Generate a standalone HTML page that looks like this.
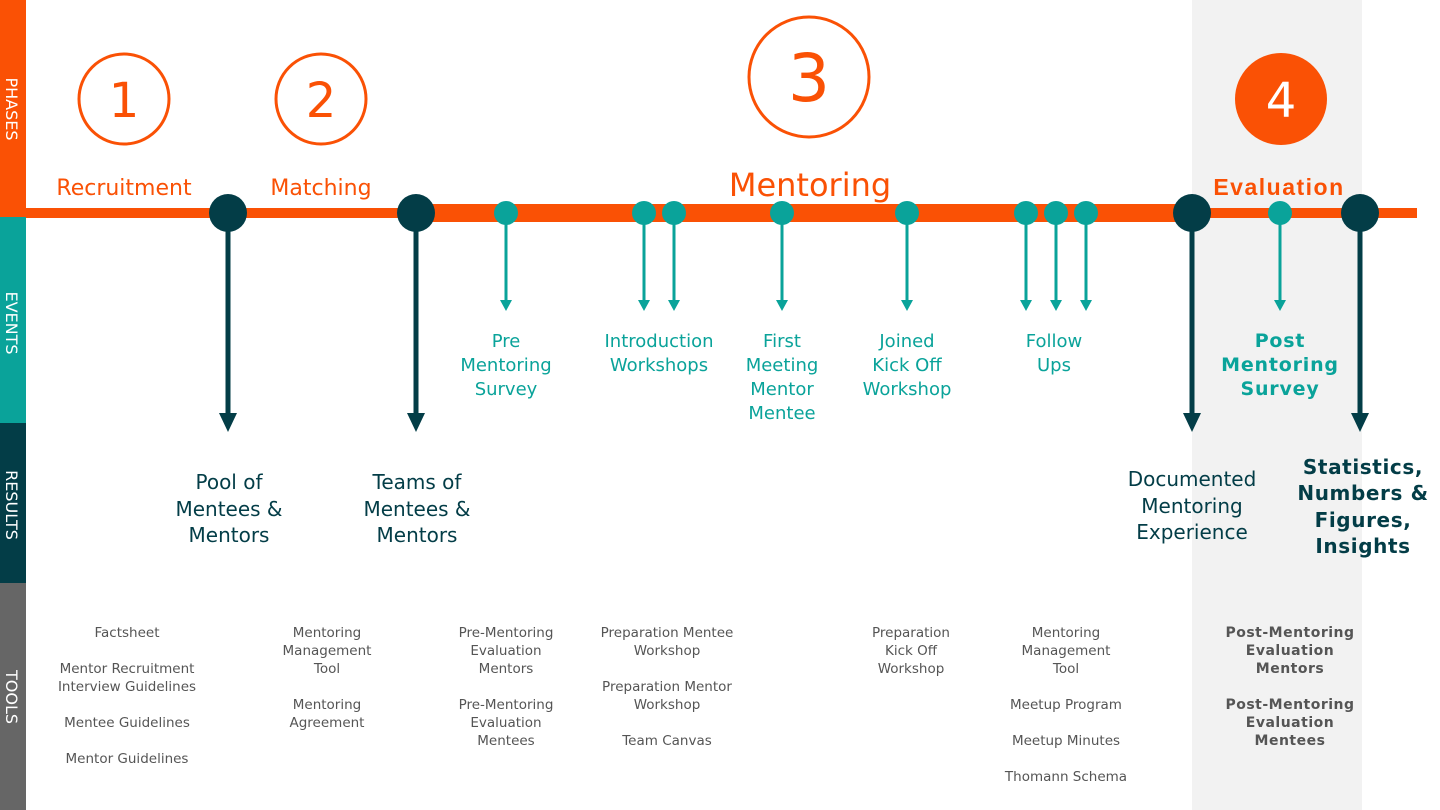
<!DOCTYPE html>
<html><head><meta charset="utf-8"><style>
body{margin:0;width:1440px;height:810px;overflow:hidden;background:#fff}
svg{display:block}
text{font-family:"DejaVu Sans","Liberation Sans",sans-serif}
.b{font-family:"Liberation Sans",sans-serif;font-weight:bold}
</style></head><body>
<svg width="1440" height="810" viewBox="0 0 1440 810">
<rect x="1192" y="0" width="170" height="810" fill="#f2f2f2"/>
<rect x="0" y="0" width="26" height="217" fill="#fa5105"/>
<rect x="0" y="217" width="26" height="206" fill="#0aa39a"/>
<rect x="0" y="423" width="26" height="160" fill="#033d47"/>
<rect x="0" y="583" width="26" height="227" fill="#666"/>
<g fill="#fff" font-size="16" text-anchor="middle">
<text transform="translate(6,109) rotate(90)">PHASES</text>
<text transform="translate(6,323) rotate(90)">EVENTS</text>
<text transform="translate(6,505) rotate(90)">RESULTS</text>
<text transform="translate(6,697) rotate(90)">TOOLS</text>
</g>
<rect x="26" y="208" width="1391" height="10" fill="#fa5105"/>
<rect x="416" y="204" width="776" height="18" fill="#fa5105"/>
<g fill="none" stroke="#fa5105" stroke-width="3">
<circle cx="124" cy="99" r="45"/><circle cx="321" cy="99" r="45"/><circle cx="809" cy="77" r="60"/>
</g>
<circle cx="1281" cy="99" r="46" fill="#fa5105"/>
<g fill="#fa5105" text-anchor="middle">
<text x="124" y="117" font-size="48">1</text>
<text x="321" y="117" font-size="48">2</text>
<text x="809" y="101" font-size="66">3</text>
<text x="1281" y="117" font-size="48" fill="#fff">4</text>
<text x="124" y="195" font-size="22">Recruitment</text>
<text x="321" y="195" font-size="22">Matching</text>
<text x="810" y="196" font-size="32">Mentoring</text>
<text x="1279" y="195" font-size="23" class="b" letter-spacing="1.5">Evaluation</text>
</g>
<g stroke="#0aa39a" stroke-width="3">
<line x1="506" y1="213" x2="506" y2="302"/><line x1="644" y1="213" x2="644" y2="302"/><line x1="674" y1="213" x2="674" y2="302"/>
<line x1="782" y1="213" x2="782" y2="302"/><line x1="907" y1="213" x2="907" y2="302"/>
<line x1="1026" y1="213" x2="1026" y2="302"/><line x1="1056" y1="213" x2="1056" y2="302"/><line x1="1086" y1="213" x2="1086" y2="302"/>
<line x1="1280" y1="213" x2="1280" y2="302"/>
</g>
<g fill="#0aa39a">
<circle cx="506" cy="213" r="12"/><circle cx="644" cy="213" r="12"/><circle cx="674" cy="213" r="12"/><circle cx="782" cy="213" r="12"/><circle cx="907" cy="213" r="12"/><circle cx="1026" cy="213" r="12"/><circle cx="1056" cy="213" r="12"/><circle cx="1086" cy="213" r="12"/><circle cx="1280" cy="213" r="12"/>
<path d="M500 300h12l-6 11z M638 300h12l-6 11z M668 300h12l-6 11z M776 300h12l-6 11z M901 300h12l-6 11z M1020 300h12l-6 11z M1050 300h12l-6 11z M1080 300h12l-6 11z M1274 300h12l-6 11z"/>
</g>
<g stroke="#033d47" stroke-width="5">
<line x1="228" y1="213" x2="228" y2="418"/><line x1="416" y1="213" x2="416" y2="418"/><line x1="1192" y1="213" x2="1192" y2="418"/><line x1="1360" y1="213" x2="1360" y2="418"/>
</g>
<g fill="#033d47">
<circle cx="228" cy="213" r="19"/><circle cx="416" cy="213" r="19"/><circle cx="1192" cy="213" r="19"/><circle cx="1360" cy="213" r="19"/>
<path d="M219 413h18l-9 19z M407 413h18l-9 19z M1183 413h18l-9 19z M1351 413h18l-9 19z"/>
</g>
<g fill="#0aa39a" font-size="18" text-anchor="middle">
<text x="506" y="347">Pre</text><text x="506" y="371">Mentoring</text><text x="506" y="395">Survey</text>
<text x="659" y="347">Introduction</text><text x="659" y="371">Workshops</text>
<text x="782" y="347">First</text><text x="782" y="371">Meeting</text><text x="782" y="395">Mentor</text><text x="782" y="419">Mentee</text>
<text x="907" y="347">Joined</text><text x="907" y="371">Kick Off</text><text x="907" y="395">Workshop</text>
<text x="1054" y="347">Follow</text><text x="1054" y="371">Ups</text>
<g class="b" font-size="19" letter-spacing="0.8"><text x="1280" y="347">Post</text><text x="1280" y="371">Mentoring</text><text x="1280" y="395">Survey</text></g>
</g>
<g fill="#033d47" font-size="20" text-anchor="middle">
<text x="229" y="489">Pool of</text><text x="229" y="516">Mentees &amp;</text><text x="229" y="542">Mentors</text>
<text x="417" y="489">Teams of</text><text x="417" y="516">Mentees &amp;</text><text x="417" y="542">Mentors</text>
<text x="1192" y="486">Documented</text><text x="1192" y="513">Mentoring</text><text x="1192" y="539">Experience</text>
<g class="b" font-size="20" letter-spacing="0.6"><text x="1363" y="474">Statistics,</text><text x="1363" y="500">Numbers &amp;</text><text x="1363" y="527">Figures,</text><text x="1363" y="553">Insights</text></g>
</g>
<g fill="#555" font-size="13.5" text-anchor="middle">
<text x="127" y="637">Factsheet</text><text x="127" y="673">Mentor Recruitment</text><text x="127" y="691">Interview Guidelines</text><text x="127" y="727">Mentee Guidelines</text><text x="127" y="763">Mentor Guidelines</text>
<text x="327" y="637">Mentoring</text><text x="327" y="655">Management</text><text x="327" y="673">Tool</text><text x="327" y="709">Mentoring</text><text x="327" y="727">Agreement</text>
<text x="506" y="637">Pre-Mentoring</text><text x="506" y="655">Evaluation</text><text x="506" y="673">Mentors</text><text x="506" y="709">Pre-Mentoring</text><text x="506" y="727">Evaluation</text><text x="506" y="745">Mentees</text>
<text x="667" y="637">Preparation Mentee</text><text x="667" y="655">Workshop</text><text x="667" y="691">Preparation Mentor</text><text x="667" y="709">Workshop</text><text x="667" y="745">Team Canvas</text>
<text x="911" y="637">Preparation</text><text x="911" y="655">Kick Off</text><text x="911" y="673">Workshop</text>
<text x="1066" y="637">Mentoring</text><text x="1066" y="655">Management</text><text x="1066" y="673">Tool</text><text x="1066" y="709">Meetup Program</text><text x="1066" y="745">Meetup Minutes</text><text x="1066" y="781">Thomann Schema</text>
<g class="b" font-size="14" letter-spacing="0.5"><text x="1290" y="637">Post-Mentoring</text><text x="1290" y="655">Evaluation</text><text x="1290" y="673">Mentors</text><text x="1290" y="709">Post-Mentoring</text><text x="1290" y="727">Evaluation</text><text x="1290" y="745">Mentees</text></g>
</g>
</svg>
</body></html>
